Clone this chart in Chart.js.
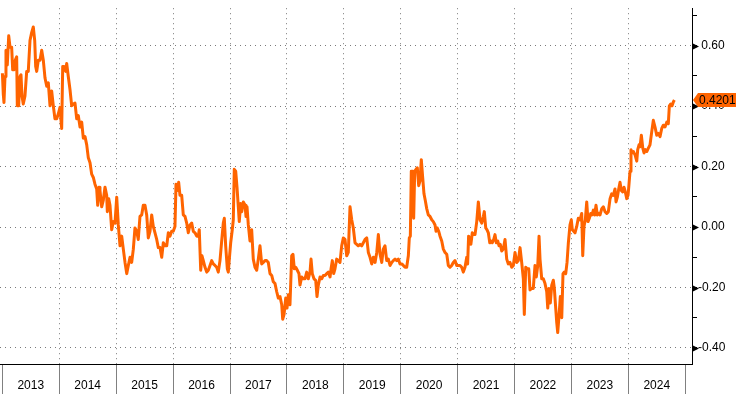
<!DOCTYPE html>
<html>
<head>
<meta charset="utf-8">
<script src="https://cdn.jsdelivr.net/npm/chart.js@4.4.1/dist/chart.umd.min.js"></script>
<style>
  html, body { margin: 0; padding: 0; background: #fff; }
  #wrap { width: 736px; height: 394px; }
</style>
</head>
<body>
<div id="wrap"><canvas id="spreadChart" width="736" height="394"></canvas></div>
<script>
// dates as decimal years, one line per calendar year
const dates = [
  2013.000, 2013.016, 2013.028, 2013.046, 2013.063, 2013.086, 2013.111, 2013.134, 2013.163, 2013.181, 2013.204, 2013.227, 2013.251, 2013.262, 2013.286, 2013.309, 2013.327, 2013.344, 2013.367, 2013.397, 2013.427, 2013.455, 2013.485, 2013.515, 2013.543, 2013.568, 2013.585, 2013.603, 2013.631, 2013.661, 2013.691, 2013.719, 2013.749, 2013.779, 2013.807, 2013.837, 2013.866, 2013.895, 2013.924, 2013.954, 2013.982,
  2014.012, 2014.042, 2014.060, 2014.083, 2014.112, 2014.130, 2014.158, 2014.188, 2014.218, 2014.246, 2014.276, 2014.306, 2014.334, 2014.364, 2014.394, 2014.422, 2014.452, 2014.482, 2014.510, 2014.540, 2014.569, 2014.598, 2014.627, 2014.657, 2014.675, 2014.698, 2014.715, 2014.745, 2014.773, 2014.803, 2014.833, 2014.844, 2014.868, 2014.891, 2014.921, 2014.949, 2014.979,
  2015.009, 2015.037, 2015.067, 2015.097, 2015.125, 2015.155, 2015.185, 2015.213, 2015.243, 2015.272, 2015.301, 2015.330, 2015.360, 2015.388, 2015.418, 2015.448, 2015.476, 2015.506, 2015.536, 2015.564, 2015.594, 2015.624, 2015.652, 2015.682, 2015.712, 2015.740, 2015.770, 2015.800, 2015.828, 2015.858, 2015.888, 2015.916, 2015.946, 2015.975,
  2016.003, 2016.033, 2016.051, 2016.074, 2016.098, 2016.121, 2016.151, 2016.179, 2016.209, 2016.239, 2016.267, 2016.297, 2016.327, 2016.355, 2016.385, 2016.415, 2016.443, 2016.460, 2016.485, 2016.508, 2016.531, 2016.561, 2016.591, 2016.619, 2016.649, 2016.678, 2016.706, 2016.736, 2016.766, 2016.794, 2016.824, 2016.854, 2016.882, 2016.900, 2016.924, 2016.953, 2016.970, 2016.988,
  2017.012, 2017.040, 2017.058, 2017.075, 2017.100, 2017.123, 2017.146, 2017.163, 2017.188, 2017.206, 2017.234, 2017.264, 2017.281, 2017.299, 2017.322, 2017.351, 2017.381, 2017.409, 2017.439, 2017.469, 2017.497, 2017.527, 2017.557, 2017.585, 2017.615, 2017.645, 2017.673, 2017.703, 2017.733, 2017.761, 2017.791, 2017.821, 2017.849, 2017.879, 2017.909, 2017.926, 2017.950, 2017.979,
  2018.002, 2018.025, 2018.054, 2018.084, 2018.107, 2018.130, 2018.155, 2018.183, 2018.212, 2018.230, 2018.260, 2018.288, 2018.318, 2018.348, 2018.376, 2018.406, 2018.424, 2018.446, 2018.476, 2018.506, 2018.529, 2018.552, 2018.582, 2018.612, 2018.640, 2018.670, 2018.700, 2018.728, 2018.758, 2018.776, 2018.798, 2018.822, 2018.845, 2018.875, 2018.903, 2018.933, 2018.963, 2018.991,
  2019.021, 2019.051, 2019.079, 2019.109, 2019.139, 2019.167, 2019.197, 2019.227, 2019.255, 2019.285, 2019.315, 2019.343, 2019.373, 2019.403, 2019.431, 2019.461, 2019.491, 2019.519, 2019.549, 2019.579, 2019.607, 2019.637, 2019.667, 2019.694, 2019.724, 2019.754, 2019.782, 2019.812, 2019.842, 2019.870, 2019.900, 2019.930, 2019.958, 2019.988,
  2020.018, 2020.046, 2020.076, 2020.105, 2020.134, 2020.151, 2020.169, 2020.186, 2020.211, 2020.228, 2020.246, 2020.269, 2020.292, 2020.316, 2020.339, 2020.362, 2020.386, 2020.409, 2020.432, 2020.457, 2020.485, 2020.515, 2020.545, 2020.573, 2020.603, 2020.621, 2020.643, 2020.668, 2020.691, 2020.721, 2020.749, 2020.779, 2020.809, 2020.837, 2020.866, 2020.896, 2020.924, 2020.954, 2020.984,
  2021.012, 2021.042, 2021.072, 2021.100, 2021.130, 2021.160, 2021.176, 2021.193, 2021.216, 2021.233, 2021.258, 2021.281, 2021.306, 2021.336, 2021.364, 2021.394, 2021.424, 2021.452, 2021.469, 2021.494, 2021.517, 2021.540, 2021.565, 2021.587, 2021.610, 2021.635, 2021.657, 2021.680, 2021.705, 2021.728, 2021.750, 2021.775, 2021.803, 2021.833, 2021.863, 2021.891, 2021.921, 2021.951, 2021.979,
  2022.009, 2022.039, 2022.067, 2022.097, 2022.126, 2022.155, 2022.172, 2022.197, 2022.220, 2022.250, 2022.272, 2022.302, 2022.330, 2022.360, 2022.383, 2022.408, 2022.431, 2022.448, 2022.478, 2022.506, 2022.536, 2022.566, 2022.584, 2022.606, 2022.629, 2022.654, 2022.682, 2022.700, 2022.724, 2022.742, 2022.759, 2022.782, 2022.805, 2022.830, 2022.852, 2022.875, 2022.900, 2022.923, 2022.946, 2022.975, 2022.998,
  2023.016, 2023.040, 2023.063, 2023.093, 2023.121, 2023.151, 2023.181, 2023.199, 2023.221, 2023.244, 2023.269, 2023.292, 2023.315, 2023.339, 2023.362, 2023.385, 2023.409, 2023.432, 2023.455, 2023.480, 2023.503, 2023.533, 2023.561, 2023.591, 2023.621, 2023.649, 2023.679, 2023.708, 2023.736, 2023.766, 2023.784, 2023.807, 2023.831, 2023.854, 2023.877, 2023.902, 2023.924, 2023.947, 2023.972, 2023.995,
  2024.012, 2024.030, 2024.047, 2024.065, 2024.088, 2024.118, 2024.148, 2024.165, 2024.188, 2024.206, 2024.229, 2024.254, 2024.276, 2024.299, 2024.324, 2024.352, 2024.381, 2024.411, 2024.439, 2024.469, 2024.499, 2024.527, 2024.557, 2024.587, 2024.615, 2024.645, 2024.675, 2024.703, 2024.721, 2024.745, 2024.768, 2024.791, 2024.809
];

const values = [
  0.509, 0.439, 0.412, 0.498, 0.585, 0.536, 0.633, 0.595, 0.595, 0.520, 0.520, 0.552, 0.563, 0.401, 0.401, 0.498, 0.504, 0.434, 0.407, 0.434, 0.515, 0.515, 0.617, 0.644, 0.662, 0.617, 0.531, 0.515, 0.552, 0.552, 0.585, 0.552, 0.493, 0.466, 0.477, 0.401, 0.450, 0.401, 0.358, 0.358, 0.374,
  0.396, 0.326, 0.531, 0.531, 0.515, 0.541, 0.498, 0.455, 0.401, 0.407, 0.410, 0.358, 0.369, 0.331, 0.347, 0.294, 0.299, 0.272, 0.229, 0.213, 0.175, 0.164, 0.142, 0.126, 0.072, 0.132, 0.121, 0.067, 0.088, 0.132, 0.105, 0.051, 0.094, 0.072, -0.009, 0.018, 0.013,
  0.099, 0.007, -0.062, -0.030, -0.073, -0.117, -0.154, -0.127, -0.100, -0.117, -0.073, -0.003, -0.014, -0.041, 0.035, 0.040, 0.072, 0.072, 0.040, -0.036, -0.014, 0.040, 0.002, -0.019, -0.041, -0.068, -0.068, -0.100, -0.052, -0.062, -0.062, -0.019, -0.030, -0.014,
  -0.014, 0.002, 0.142, 0.121, 0.148, 0.105, 0.105, 0.040, 0.035, 0.013, -0.019, 0.007, 0.013, -0.014, -0.019, -0.030, -0.030, -0.009, -0.143, -0.095, -0.111, -0.133, -0.149, -0.143, -0.127, -0.111, -0.122, -0.127, -0.133, -0.149, -0.111, -0.046, 0.013, 0.029, -0.062, -0.138, -0.149, -0.106,
  -0.052, -0.009, 0.024, 0.191, 0.185, 0.132, 0.067, 0.018, 0.078, 0.051, 0.083, 0.072, 0.035, 0.067, 0.007, -0.046, -0.009, -0.106, -0.133, -0.143, -0.106, -0.062, -0.122, -0.117, -0.111, -0.111, -0.117, -0.154, -0.160, -0.181, -0.187, -0.214, -0.235, -0.230, -0.257, -0.305, -0.289, -0.235,
  -0.268, -0.224, -0.257, -0.095, -0.090, -0.138, -0.133, -0.143, -0.154, -0.192, -0.165, -0.171, -0.171, -0.149, -0.171, -0.149, -0.106, -0.154, -0.171, -0.176, -0.230, -0.192, -0.165, -0.171, -0.160, -0.160, -0.154, -0.149, -0.165, -0.138, -0.111, -0.154, -0.138, -0.106, -0.111, -0.117, -0.062, -0.036,
  -0.041, -0.095, -0.084, 0.067, 0.024, -0.003, -0.052, -0.057, -0.062, -0.057, -0.062, -0.052, -0.041, -0.036, -0.084, -0.100, -0.122, -0.100, -0.117, -0.084, -0.025, -0.090, -0.117, -0.073, -0.062, -0.111, -0.106, -0.127, -0.117, -0.111, -0.106, -0.111, -0.106, -0.122,
  -0.122, -0.127, -0.133, -0.133, -0.095, -0.036, -0.030, 0.185, 0.185, 0.029, 0.185, 0.191, 0.196, 0.137, 0.153, 0.223, 0.164, 0.110, 0.088, 0.061, 0.040, 0.035, 0.024, 0.018, 0.007, -0.014, -0.003, -0.014, -0.030, -0.046, -0.073, -0.084, -0.090, -0.127, -0.133, -0.127, -0.117, -0.111, -0.127,
  -0.127, -0.127, -0.133, -0.149, -0.133, -0.100, -0.122, -0.030, -0.041, -0.057, -0.019, -0.025, -0.025, 0.018, 0.083, 0.024, 0.013, 0.035, 0.051, -0.003, -0.009, -0.019, -0.052, -0.046, -0.052, -0.041, -0.025, -0.052, -0.046, -0.062, -0.057, -0.079, -0.073, -0.041, -0.106, -0.122, -0.117, -0.133, -0.127,
  -0.084, -0.117, -0.111, -0.068, -0.117, -0.171, -0.289, -0.133, -0.138, -0.138, -0.208, -0.203, -0.203, -0.127, -0.165, -0.127, -0.030, -0.106, -0.171, -0.171, -0.187, -0.214, -0.268, -0.203, -0.251, -0.192, -0.176, -0.203, -0.268, -0.316, -0.349, -0.294, -0.230, -0.300, -0.154, -0.149, -0.154, -0.117, -0.052, 0.007, 0.024,
  -0.009, -0.014, -0.019, 0.002, 0.029, 0.024, 0.045, -0.095, 0.002, 0.024, 0.083, 0.018, 0.029, 0.045, 0.040, 0.056, 0.040, 0.072, 0.040, 0.045, 0.040, 0.061, 0.067, 0.051, 0.045, 0.051, 0.094, 0.110, 0.105, 0.126, 0.083, 0.099, 0.126, 0.148, 0.121, 0.116, 0.132, 0.116, 0.094, 0.105,
  0.142, 0.185, 0.256, 0.245, 0.250, 0.239, 0.218, 0.256, 0.272, 0.266, 0.304, 0.261, 0.245, 0.256, 0.250, 0.261, 0.272, 0.315, 0.353, 0.331, 0.304, 0.310, 0.299, 0.326, 0.337, 0.331, 0.347, 0.342, 0.401, 0.407, 0.401, 0.414, 0.4201
];

const yearLabels = [2013, 2014, 2015, 2016, 2017, 2018, 2019, 2020, 2021, 2022, 2023, 2024];
const majorTicks = [-0.4, -0.2, 0, 0.2, 0.4, 0.6];
const minorTicks = [-0.3, -0.1, 0.1, 0.3, 0.5, 0.7];

const LINE_COLOR = '#ff6400';
const GRID_COLOR = '#7a7a7a';
const FONT = '"Liberation Sans", Arial, sans-serif';

const isMajor = v => majorTicks.some(m => Math.abs(m - v) < 1e-6);

// little black arrows on the major ticks + the last-value tag
const axisMarkers = {
    id: 'axisMarkers',
    afterDraw(chart) {
        const { ctx, chartArea } = chart;
        const y = chart.scales.y;
        ctx.save();
        ctx.fillStyle = '#000';
        majorTicks.forEach(v => {
            const py = Math.round(y.getPixelForValue(v)) + 0.5;
            ctx.beginPath();
            ctx.moveTo(chartArea.right, py - 3.5);
            ctx.lineTo(chartArea.right + 7, py);
            ctx.lineTo(chartArea.right, py + 3.5);
            ctx.closePath();
            ctx.fill();
        });

        const last = values[values.length - 1];
        const py = y.getPixelForValue(last);
        const x0 = chartArea.right + 1;
        ctx.fillStyle = LINE_COLOR;
        ctx.beginPath();
        ctx.moveTo(x0, py);
        ctx.lineTo(x0 + 5, py - 7);
        ctx.lineTo(chart.width, py - 7);
        ctx.lineTo(chart.width, py + 7);
        ctx.lineTo(x0 + 5, py + 7);
        ctx.closePath();
        ctx.fill();
        ctx.fillStyle = '#000';
        ctx.font = '12px ' + FONT;
        ctx.textBaseline = 'middle';
        ctx.textAlign = 'left';
        ctx.fillText(last.toFixed(4), x0 + 6, py + 0.5);
        ctx.restore();
    }
};

const ctx = document.getElementById('spreadChart').getContext('2d');
new Chart(ctx, {
    type: 'line',
    data: {
        datasets: [{
            data: dates.map((d, i) => ({ x: d, y: values[i] })),
            borderColor: LINE_COLOR,
            borderWidth: 3,
            borderJoinStyle: 'round',
            pointRadius: 0,
            tension: 0,
            fill: false
        }]
    },
    options: {
        responsive: false,
        animation: false,
        devicePixelRatio: 1,
        layout: { padding: 0, autoPadding: false },
        plugins: { legend: { display: false }, tooltip: { enabled: false } },
        scales: {
            x: {
                type: 'linear',
                position: 'bottom',
                min: 2012.958,
                max: 2025.119,
                afterBuildTicks: axis => {
                    axis.ticks = yearLabels.concat([2025]).map(v => ({ value: v }));
                },
                afterFit: scale => { scale.height = 30; },
                grid: {
                    color: c => (c.tick && (c.tick.value === 2013 || c.tick.value === 2025)) ? 'rgba(0,0,0,0)' : GRID_COLOR,
                    lineWidth: 1,
                    drawTicks: true,
                    tickLength: 30,
                    tickColor: '#808080',
                    tickBorderDash: [],
                    tickWidth: 1
                },
                border: { display: true, color: '#000', width: 1, dash: [1, 4] },
                ticks: {
                    autoSkip: false,
                    maxRotation: 0,
                    labelOffset: 28.4,
                    padding: -16,
                    color: '#000',
                    font: { family: FONT, size: 12 },
                    callback: v => yearLabels.includes(v) ? String(v) : ''
                }
            },
            y: {
                position: 'right',
                min: -0.453,
                max: 0.724,
                afterBuildTicks: axis => {
                    axis.ticks = majorTicks.concat(minorTicks).sort((a, b) => a - b).map(v => ({ value: v }));
                },
                afterFit: scale => { scale.width = 44; },
                grid: {
                    color: c => (c.tick && isMajor(c.tick.value)) ? GRID_COLOR : 'rgba(0,0,0,0)',
                    lineWidth: 1,
                    tickLength: 5,
                    tickColor: '#000',
                    tickBorderDash: [],
                    tickWidth: 1
                },
                border: { display: true, color: '#000', width: 1, dash: [1, 4] },
                ticks: {
                    padding: 1,
                    color: '#000',
                    font: { family: FONT, size: 12 },
                    callback: v => isMajor(v) ? (v < 0 ? '' : ' ') + v.toFixed(2) : ''
                }
            }
        }
    },
    plugins: [axisMarkers]
});
</script>
</body>
</html>
